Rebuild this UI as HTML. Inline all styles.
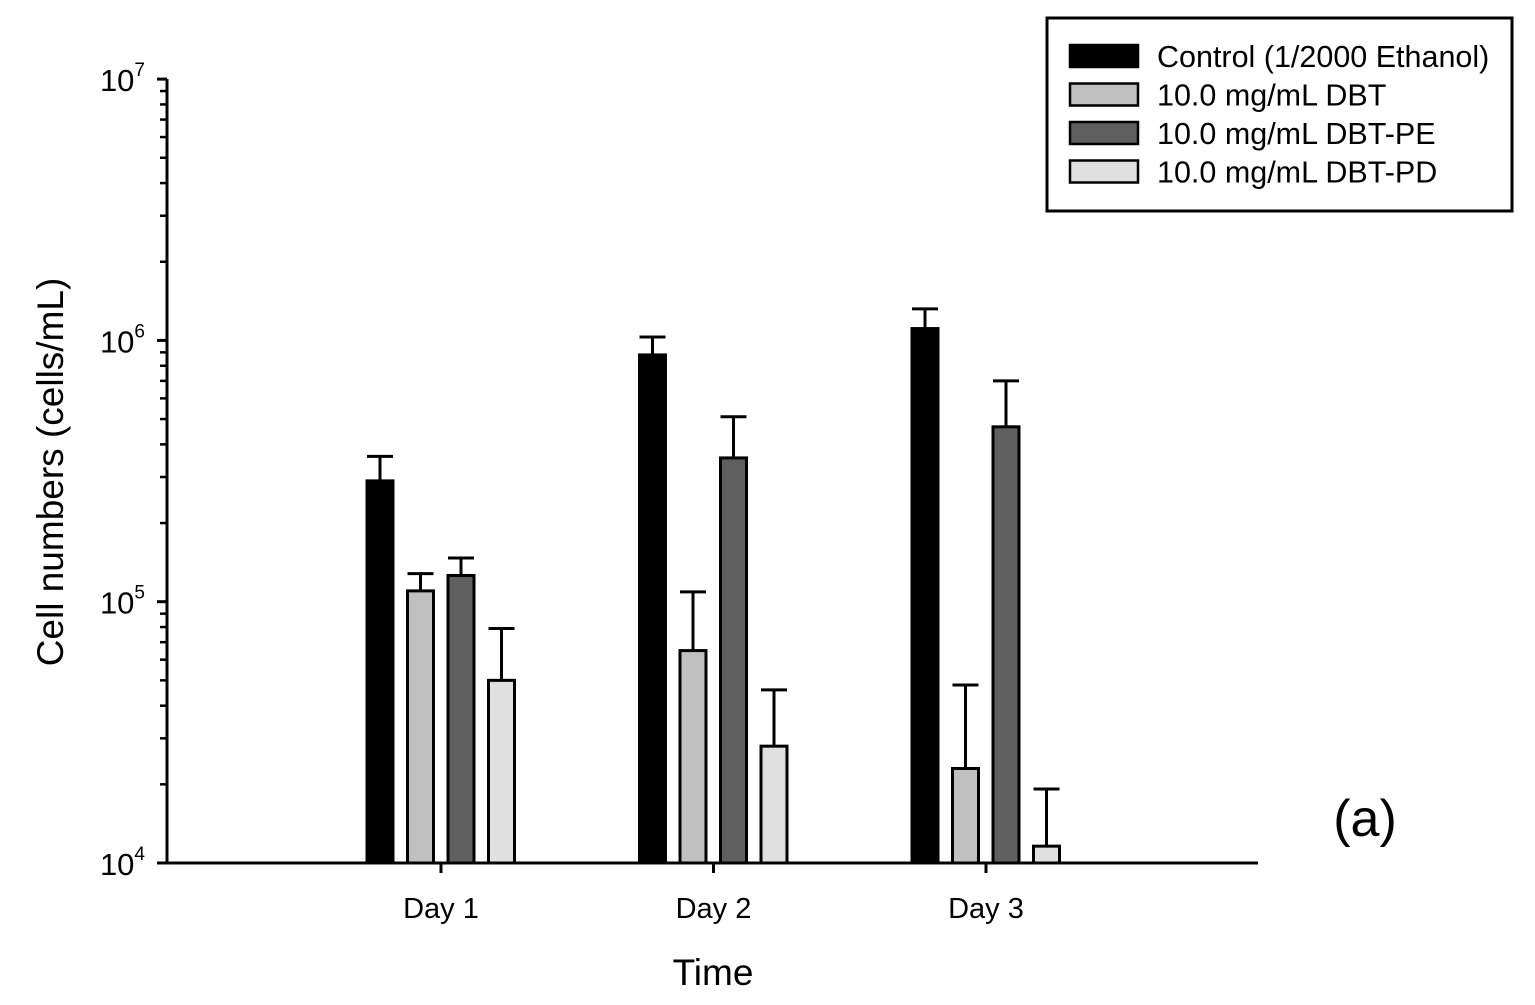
<!DOCTYPE html>
<html><head><meta charset="utf-8"><style>
body{margin:0;background:#fff;}
svg{display:block;font-family:"Liberation Sans",Arial,sans-serif;}
</style></head><body>
<svg id="chart" width="1535" height="1005">
<g id="axes"></g>
<g id="bars"></g>
<text x="713" y="985" font-size="37" text-anchor="middle">Time</text>
<text transform="translate(63,472) rotate(-90)" font-size="37" text-anchor="middle">Cell numbers (cells/mL)</text>
<text x="1365" y="836" font-size="52" text-anchor="middle">(a)</text>
<g>
<rect x="1047" y="18" width="465" height="193" fill="#fff" stroke="#000" stroke-width="3"/>
<g id="legend"></g>
</g>
</svg>
<script>
const categories=["Day 1","Day 2","Day 3"];
const seriesNames=["Control (1/2000 Ethanol)","10.0 mg/mL DBT","10.0 mg/mL DBT-PE","10.0 mg/mL DBT-PD"];
const controlVals=[2.9e5,8.8e5,1.11e6];
const dbtVals=[1.1e5,6.5e4,2.3e4];
const peVals=[1.26e5,3.55e5,4.67e5];
const pdVals=[5.0e4,2.8e4,1.16e4];
const controlErr=[3.6e5,1.03e6,1.32e6];
const dbtErr=[1.28e5,1.09e5,4.8e4];
const peErr=[1.47e5,5.1e5,7.0e5];
const pdErr=[7.9e4,4.6e4,1.92e4];
const yTickExps=[4,5,6,7];

const NS="http://www.w3.org/2000/svg";
const X0=167,X1=1258,Y0=863,DEC=261.3;
const fills=["#000000","#c0c0c0","#5f5f5f","#e0e0e0"];
const vals=[controlVals,dbtVals,peVals,pdVals];
const errs=[controlErr,dbtErr,peErr,pdErr];
function y(v){return Y0-(Math.log10(v)-4)*DEC;}
function xc(i){return 441+i*272.5;}
function mk(tag,a,p){const e=document.createElementNS(NS,tag);for(const k in a)e.setAttribute(k,a[k]);p.appendChild(e);return e;}
const axes=document.getElementById('axes'),bars=document.getElementById('bars'),leg=document.getElementById('legend');

const ya=mk('line',{x1:X0,y1:79,x2:X0,y2:Y0+1,stroke:'#000','stroke-width':3},axes);


const xa=mk('line',{x1:X0-1,y1:Y0,x2:X1,y2:Y0,stroke:'#000','stroke-width':3},axes);


yTickExps.forEach(e=>{
  const yy=y(Math.pow(10,e));
  const t=mk('line',{x1:X0-10,y1:yy,x2:X0,y2:yy,stroke:'#000','stroke-width':3},axes);
  
  
  const tx=mk('text',{x:X0-22,y:yy+12,'font-size':31,'text-anchor':'end'},axes);
  
  
  tx.textContent='10';
  const sp=mk('tspan',{dy:-15,'font-size':19},tx);sp.textContent=String(e);
  if(e<7)for(let m=2;m<=9;m++){
    const my=y(m*Math.pow(10,e));
    const mt=mk('line',{x1:X0-7,y1:my,x2:X0,y2:my,stroke:'#000','stroke-width':2.5},axes);
    
    
  }
});
categories.forEach((c,i)=>{
  const t=mk('line',{x1:xc(i),y1:Y0,x2:xc(i),y2:Y0+10,stroke:'#000','stroke-width':3},axes);
  
  
  const tx=mk('text',{x:xc(i),y:918,'font-size':29,'text-anchor':'middle'},axes);
  
  
  tx.textContent=c;
  for(let s=0;s<4;s++){
    const left=xc(i)-74+s*40.5, w=26, top=y(vals[s][i]), et=y(errs[s][i]), cx=left+w/2;
    const el=mk('line',{x1:cx,y1:top,x2:cx,y2:et,stroke:'#000','stroke-width':3},bars);
    
    
    const ec=mk('line',{x1:left,y1:et,x2:left+w,y2:et,stroke:'#000','stroke-width':3},bars);
    
    
    const r=mk('rect',{x:left,y:top,width:w,height:Y0-top,fill:fills[s],stroke:'#000','stroke-width':3},bars);
    
    
  }
});
seriesNames.forEach((n,s)=>{
  const yy=45+s*38.5;
  const r=mk('rect',{x:1070,y:yy,width:68,height:22,fill:fills[s],stroke:'#000','stroke-width':2.5},leg);
  
  
  const t=mk('text',{x:1157,y:yy+22,'font-size':30.5},leg);
  
  
  t.textContent=n;
});
</script>
</body></html>
